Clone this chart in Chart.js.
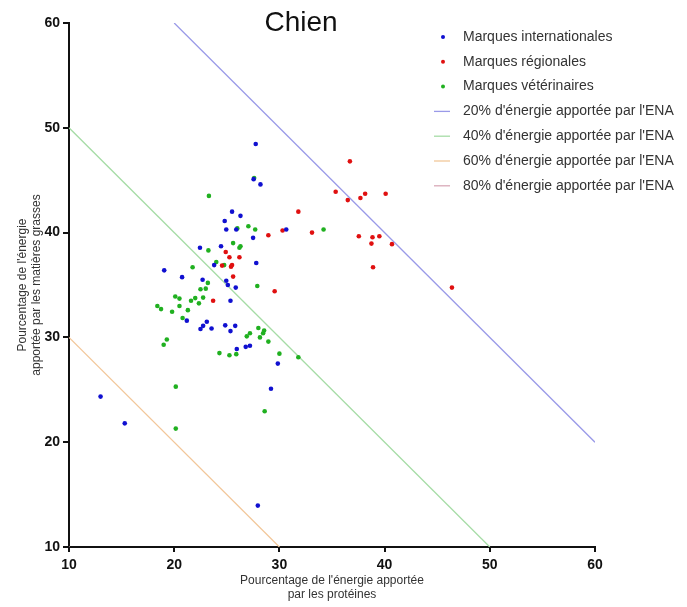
<!DOCTYPE html>
<html>
<head>
<meta charset="utf-8">
<script src="https://cdn.jsdelivr.net/npm/chart.js@4"></script>
<style>
  body { margin: 0; background: #fff; }
  #wrap { width: 687px; height: 607px; }
</style>
</head>
<body>
<div id="wrap"><canvas id="myChart" width="687" height="607"></canvas></div>
<script>
// Marques internationales
var intlX = [27.75, 27.55, 28.2, 25.5, 26.3, 24.8, 24.95, 25.9, 30.65, 27.5, 22.45, 24.45, 23.8, 27.8, 19.05, 20.75, 22.7, 24.95, 25.1, 25.85, 25.35, 21.2, 23.1, 22.75, 22.5, 23.55, 24.85, 25.8, 25.35, 27.2, 26.8, 25.95, 29.85, 29.2, 27.95, 13.0, 15.3];
var intlY = [48.45, 45.1, 44.6, 42.0, 41.6, 41.1, 40.3, 40.3, 40.3, 39.5, 38.55, 38.7, 36.9, 37.1, 36.4, 35.75, 35.5, 35.4, 35.0, 34.75, 33.5, 31.6, 31.5, 31.1, 30.8, 30.85, 31.15, 31.1, 30.6, 29.2, 29.1, 28.9, 27.5, 25.1, 13.95, 24.35, 21.8];

// Marques régionales
var regX = [35.35, 31.8, 28.95, 30.3, 33.1, 24.9, 25.25, 26.2, 24.55, 25.5, 25.4, 25.6, 29.55, 23.7, 36.7, 36.5, 38.15, 37.7, 40.1, 37.55, 38.85, 39.5, 38.75, 40.7, 38.9, 46.4];
var regY = [43.9, 42.0, 39.75, 40.2, 40.0, 38.15, 37.65, 37.65, 36.85, 36.9, 36.75, 35.8, 34.4, 33.5, 46.8, 43.1, 43.7, 43.3, 43.7, 39.65, 39.55, 39.65, 38.95, 38.9, 36.7, 34.75];

// Marques vétérinaires
var vetX = [27.6, 23.3, 27.05, 26.0, 27.7, 34.2, 25.6, 26.3, 26.2, 23.25, 24.0, 24.75, 21.75, 23.2, 22.5, 23.0, 27.9, 20.1, 20.5, 22.0, 21.6, 22.75, 22.35, 18.4, 18.75, 20.5, 19.8, 21.3, 20.8, 28.0, 28.55, 28.45, 27.2, 26.9, 28.15, 28.95, 19.3, 19.0, 24.3, 25.25, 25.9, 30.0, 31.8, 20.15, 28.6, 20.15];
var vetY = [45.2, 43.5, 40.6, 40.4, 40.3, 40.3, 39.0, 38.7, 38.55, 38.3, 37.2, 36.9, 36.7, 35.2, 34.6, 34.65, 34.9, 33.9, 33.7, 33.75, 33.5, 33.8, 33.25, 33.0, 32.7, 33.0, 32.45, 32.6, 31.85, 30.9, 30.65, 30.4, 30.4, 30.1, 30.0, 29.6, 29.8, 29.3, 28.5, 28.3, 28.4, 28.45, 28.1, 25.3, 22.95, 21.3];

// droites d'énergie apportée par l'ENA (extrémités)
var ena20X = [20, 60], ena20Y = [60, 20];
var ena40X = [10, 50], ena40Y = [50, 10];
var ena60X = [10, 30], ena60Y = [30, 10];
var ena80X = [0, 20], ena80Y = [20, 0];

var axisTicks = [10, 20, 30, 40, 50, 60];

function pts(xs, ys) {
    var out = [];
    for (var i = 0; i < xs.length; i++) out.push({ x: xs[i], y: ys[i] });
    return out;
}

function dots(label, xs, ys, color) {
    return {
        type: 'scatter', label: label, data: pts(xs, ys),
        backgroundColor: color, borderColor: color, borderWidth: 0,
        pointRadius: 2.3, pointHoverRadius: 2.3
    };
}

function line(label, xs, ys, color) {
    return {
        type: 'line', label: label, data: pts(xs, ys),
        borderColor: color, backgroundColor: color, borderWidth: 1.3,
        pointRadius: 0, fill: false
    };
}

// titre + légende dessinés à la main (la légende déborde sur la zone du graphe)
var customText = {
    id: 'customText',
    afterDraw: function (chart) {
        var ctx = chart.ctx;
        ctx.save();
        ctx.fillStyle = '#111';
        ctx.font = '28px "Liberation Sans", Arial, sans-serif';
        ctx.textAlign = 'center';
        ctx.textBaseline = 'middle';
        ctx.fillText('Chien', 301, 23);

        ctx.font = '14px "Liberation Sans", Arial, sans-serif';
        ctx.textAlign = 'left';
        chart.data.datasets.forEach(function (ds, i) {
            var y = 37 + i * 24.8;
            if (ds.type === 'scatter') {
                ctx.fillStyle = ds.backgroundColor;
                ctx.beginPath();
                ctx.arc(443, y, 2, 0, Math.PI * 2);
                ctx.fill();
            } else {
                ctx.strokeStyle = ds.borderColor;
                ctx.lineWidth = 1.3;
                ctx.beginPath();
                ctx.moveTo(434, y);
                ctx.lineTo(450, y);
                ctx.stroke();
            }
            ctx.fillStyle = '#333';
            ctx.fillText(ds.label, 463, y);
        });
        ctx.restore();
    }
};

const ctx = document.getElementById('myChart').getContext('2d');
const myChart = new Chart(ctx, {
    data: {
        datasets: [
            dots('Marques internationales', intlX, intlY, '#1010d0'),
            dots('Marques régionales', regX, regY, '#e01010'),
            dots('Marques vétérinaires', vetX, vetY, '#20b020'),
            line("20% d'énergie apportée par l'ENA", ena20X, ena20Y, '#9a9ae8'),
            line("40% d'énergie apportée par l'ENA", ena40X, ena40Y, '#a6dca6'),
            line("60% d'énergie apportée par l'ENA", ena60X, ena60Y, '#f2c79a'),
            line("80% d'énergie apportée par l'ENA", ena80X, ena80Y, '#d9a9b8')
        ]
    },
    options: {
        responsive: false,
        animation: false,
        layout: { padding: { top: 23, right: 92, left: 0, bottom: 0 } },
        plugins: {
            legend: { display: false },
            tooltip: { enabled: false }
        },
        scales: {
            x: {
                type: 'linear', min: 10, max: 60,
                afterBuildTicks: function (s) { s.ticks = axisTicks.map(function (v) { return { value: v }; }); },
                afterFit: function (s) { s.height = 60; },
                grid: { display: true, drawOnChartArea: false, drawTicks: true, tickLength: 5, color: '#111', lineWidth: 2 },
                border: { color: '#111', width: 2 },
                ticks: { color: '#111', padding: 5, font: { family: '"Liberation Sans", Arial', size: 14, weight: 'bold' } },
                title: {
                    display: true,
                    text: ["Pourcentage de l'énergie apportée", 'par les protéines'],
                    color: '#333',
                    padding: { top: 0, bottom: 5 },
                    font: { family: '"Liberation Sans", Arial', size: 12 }
                }
            },
            y: {
                type: 'linear', min: 10, max: 60,
                afterBuildTicks: function (s) { s.ticks = axisTicks.map(function (v) { return { value: v }; }); },
                afterFit: function (s) { s.width = 69; },
                grid: { display: true, drawOnChartArea: false, drawTicks: true, tickLength: 6, color: '#111', lineWidth: 2 },
                border: { color: '#111', width: 2 },
                ticks: { color: '#111', padding: 3, font: { family: '"Liberation Sans", Arial', size: 14, weight: 'bold' } },
                title: {
                    display: true,
                    text: ["Pourcentage de l'énergie", 'apportée par les matières grasses'],
                    color: '#333',
                    padding: { top: 15, bottom: 0 },
                    font: { family: '"Liberation Sans", Arial', size: 12 }
                }
            }
        }
    },
    plugins: [customText]
});
</script>
</body>
</html>
